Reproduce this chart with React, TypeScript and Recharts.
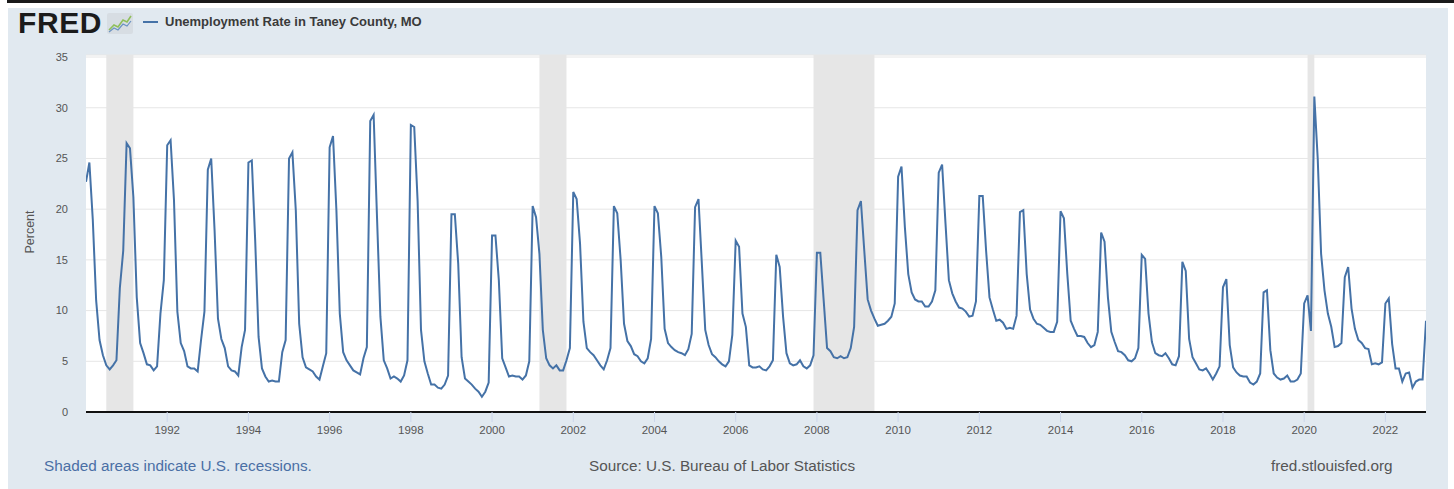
import React from 'react';
import { LineChart, Line, XAxis, YAxis, CartesianGrid, ReferenceArea } from 'recharts';

// monthly values, one row per year (Jan..Dec)
const rate1990s = [
  22.7, 24.6, 19.0, 11.0, 7.1, 5.6, 4.6, 4.2, 4.6, 5.1, 12.2, 15.9,
  26.5, 26.0, 21.2, 11.3, 6.8, 5.8, 4.7, 4.6, 4.1, 4.5, 9.7, 13.0,
  26.3, 26.8, 20.9, 9.9, 6.8, 6.0, 4.5, 4.3, 4.3, 4.0, 7.1, 9.9,
  23.9, 25.0, 17.9, 9.2, 7.2, 6.3, 4.5, 4.1, 4.0, 3.6, 6.4, 8.1,
  24.6, 24.8, 16.9, 7.4, 4.3, 3.5, 3.0, 3.1, 3.0, 3.0, 5.9, 7.1,
  25.0, 25.6, 19.9, 8.7, 5.4, 4.4, 4.2, 4.0, 3.5, 3.2, 4.5, 5.8,
  26.1, 27.2, 19.9, 9.7, 5.9, 5.1, 4.6, 4.1, 3.9, 3.7, 5.3, 6.4,
  28.7, 29.3, 19.2, 9.4, 5.1, 4.3, 3.3, 3.5, 3.3, 3.0, 3.6, 5.1,
  28.3, 28.1, 20.8, 8.1, 5.0, 3.8, 2.7, 2.7, 2.4, 2.3, 2.7, 3.6,
  19.5, 19.5, 14.6, 5.4, 3.3, 3.0, 2.7, 2.3, 2.0, 1.5, 2.0, 2.9,
];

const rate2000s = [
  17.4, 17.4, 13.0, 5.3, 4.4, 3.5, 3.6, 3.5, 3.5, 3.2, 3.6, 5.0,
  20.3, 19.2, 15.6, 8.1, 5.3, 4.6, 4.3, 4.6, 4.1, 4.1, 5.1, 6.3,
  21.7, 21.0, 16.6, 8.9, 6.3, 5.9, 5.6, 5.1, 4.6, 4.2, 5.1, 6.3,
  20.3, 19.6, 15.0, 8.7, 7.0, 6.5, 5.7, 5.5, 5.0, 4.8, 5.3, 7.2,
  20.3, 19.6, 15.3, 8.2, 6.8, 6.4, 6.1, 5.9, 5.8, 5.6, 6.2, 7.7,
  20.2, 21.0, 14.6, 8.1, 6.6, 5.7, 5.4, 5.0, 4.7, 4.5, 5.0, 7.6,
  16.9, 16.3, 9.7, 8.4, 4.6, 4.4, 4.4, 4.5, 4.2, 4.1, 4.5, 5.1,
  15.5, 14.3, 9.4, 5.8, 4.8, 4.6, 4.7, 5.1, 4.5, 4.3, 4.6, 5.6,
  15.7, 15.7, 11.0, 6.3, 6.0, 5.4, 5.3, 5.5, 5.3, 5.4, 6.3, 8.4,
  19.9, 20.8, 15.9, 11.1, 10.0, 9.2, 8.5, 8.6, 8.7, 9.0, 9.4, 10.7,
];

const rate2010s = [
  23.2, 24.2, 18.2, 13.6, 11.8, 11.1, 10.9, 10.9, 10.4, 10.4, 10.9, 12.0,
  23.6, 24.4, 18.6, 13.0, 11.7, 10.9, 10.3, 10.2, 9.9, 9.4, 9.5, 10.9,
  21.3, 21.3, 15.9, 11.3, 10.1, 9.0, 9.1, 8.8, 8.2, 8.3, 8.2, 9.5,
  19.7, 19.9, 13.6, 10.1, 9.2, 8.7, 8.6, 8.3, 8.0, 7.9, 7.9, 8.9,
  19.8, 19.1, 13.6, 9.0, 8.2, 7.5, 7.5, 7.4, 6.8, 6.4, 6.6, 7.9,
  17.7, 16.8, 11.3, 7.9, 6.9, 6.0, 5.9, 5.6, 5.1, 5.0, 5.3, 6.3,
  15.5, 15.1, 9.7, 6.9, 5.8, 5.6, 5.5, 5.8, 5.3, 4.7, 4.6, 5.5,
  14.8, 13.9, 7.2, 5.4, 4.8, 4.2, 4.1, 4.3, 3.8, 3.2, 3.8, 4.5,
  12.3, 13.1, 6.6, 4.4, 3.9, 3.6, 3.5, 3.5, 2.9, 2.7, 3.0, 3.8,
  11.8, 12.0, 6.1, 3.8, 3.4, 3.2, 3.3, 3.6, 3.0, 3.0, 3.2, 3.8,
];

const rate2020s = [
  10.7, 11.5, 8.0, 31.1, 25.0, 15.6, 12.0, 9.7, 8.4, 6.4, 6.5, 6.8,
  13.3, 14.3, 10.2, 8.2, 7.1, 6.8, 6.3, 6.2, 4.7, 4.8, 4.7, 4.9,
  10.7, 11.2, 6.7, 4.3, 4.3, 3.0, 3.8, 3.9, 2.4, 3.0, 3.2, 3.2,
  9.0,
];

// recession periods as [start, end] in fractional years
const recessions = [
  [1990.5, 1991.167],
  [2001.167, 2001.833],
  [2007.917, 2009.417],
  [2020.083, 2020.25],
];

const xTicks = [1992, 1994, 1996, 1998, 2000, 2002, 2004, 2006, 2008, 2010, 2012, 2014, 2016, 2018, 2020, 2022];
const yTicks = [0, 5, 10, 15, 20, 25, 30, 35];

const series = [
  { start: 1990, values: rate1990s },
  { start: 2000, values: rate2000s },
  { start: 2010, values: rate2010s },
  { start: 2020, values: rate2020s },
];

const data = series.flatMap(s => s.values.map((v, i) => ({ t: s.start + i / 12, v })));

const font = '"Liberation Sans", Arial, sans-serif';

const FredIcon = () => (
  <svg width="26" height="21" viewBox="0 0 26 21" style={{ position: 'absolute', left: 107, top: 13 }}>
    <rect x="0" y="0" width="26" height="21" rx="2" fill="#d7dde3" />
    <polyline points="2,17 7,12 11,14 16,7 20,9 24,3" fill="none" stroke="#8fbf5a" strokeWidth="1.6" />
    <polyline points="2,19 7,15 11,17 16,11 20,13 24,8" fill="none" stroke="#6b93c2" strokeWidth="1.2" />
  </svg>
);

export default function App() {
  return (
    <div style={{ position: 'absolute', left: 0, top: 0, width: 1454, height: 489, background: '#fff', fontFamily: font, overflow: 'hidden' }}>
      <div style={{ position: 'absolute', left: 7, top: 0, width: 1447, height: 3, background: '#1a1a1a' }} />
      <div style={{ position: 'absolute', left: 8, top: 8, width: 1440, height: 481, background: '#e1e9f0' }} />

      {/* header */}
      <div style={{ position: 'absolute', left: 18, top: 7, fontSize: 30, fontWeight: 900, color: '#1b1b1b', letterSpacing: 0.6, lineHeight: '32px' }}>
        FRED
      </div>
      <FredIcon />
      <div style={{ position: 'absolute', left: 143, top: 21, width: 15, height: 2, background: '#4572a7' }} />
      <div style={{ position: 'absolute', left: 165, top: 14, fontSize: 13, fontWeight: 'bold', color: '#3a3a3a', lineHeight: '16px', whiteSpace: 'nowrap' }}>
        Unemployment Rate in Taney County, MO
      </div>

      {/* y axis title */}
      <div style={{ position: 'absolute', left: 30, top: 232, transform: 'translate(-50%, -50%) rotate(-90deg)', fontSize: 12.5, color: '#555', whiteSpace: 'nowrap' }}>
        Percent
      </div>

      <div style={{ position: 'absolute', left: 0, top: 0 }}>
        <LineChart width={1454} height={489} data={data} margin={{ top: 55, right: 28, bottom: 47, left: 46 }}>
          <CartesianGrid vertical={false} stroke="#e6e6e6" fill="#ffffff" />
          {recessions.map(([a, b]) => (
            <ReferenceArea key={a} x1={a} x2={b} fill="#e6e6e6" fillOpacity={1} stroke="none" />
          ))}
          <XAxis
            dataKey="t"
            type="number"
            domain={[1990, 2023]}
            ticks={xTicks}
            allowDataOverflow
            tickFormatter={(v: number) => String(Math.round(v))}
            axisLine={{ stroke: '#111', strokeWidth: 2 }}
            tickLine={{ stroke: '#ccd6eb' }}
            tickSize={10}
            tickMargin={4}
            height={30}
            tick={{ fill: '#555', fontSize: 11.5, fontFamily: font }}
          />
          <YAxis
            type="number"
            domain={[0, 35.2]}
            ticks={yTicks}
            allowDataOverflow
            width={40}
            axisLine={false}
            tickLine={false}
            tickSize={0}
            tickMargin={18}
            tick={{ fill: '#555', fontSize: 11, fontFamily: font }}
          />
          <Line type="linear" dataKey="v" stroke="#4572a7" strokeWidth={2} dot={false} isAnimationActive={false} />
        </LineChart>
      </div>

      {/* footer */}
      <div style={{ position: 'absolute', left: 44, top: 457, fontSize: 15.3, color: '#4a6fa5', lineHeight: '18px', whiteSpace: 'nowrap' }}>
        Shaded areas indicate U.S. recessions.
      </div>
      <div style={{ position: 'absolute', left: 722, top: 457, transform: 'translateX(-50%)', fontSize: 15.3, color: '#555', lineHeight: '18px', whiteSpace: 'nowrap' }}>
        Source: U.S. Bureau of Labor Statistics
      </div>
      <div style={{ position: 'absolute', left: 1271, top: 457, fontSize: 15.3, color: '#555', lineHeight: '18px', whiteSpace: 'nowrap' }}>
        fred.stlouisfed.org
      </div>
    </div>
  );
}
